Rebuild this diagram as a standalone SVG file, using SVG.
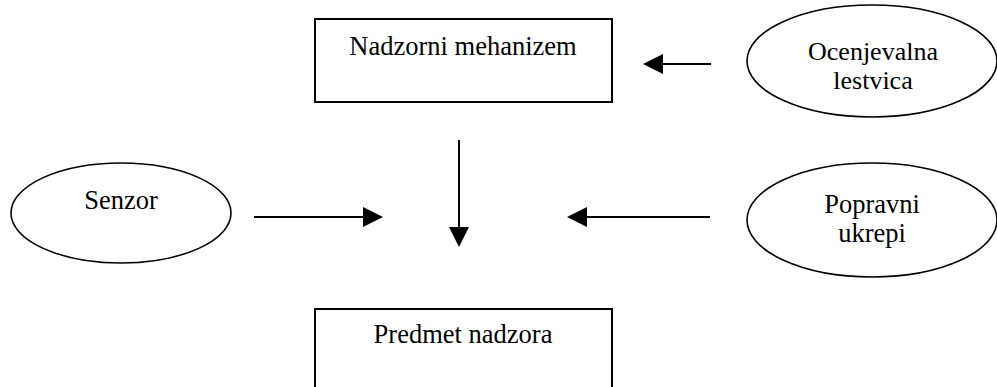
<svg xmlns="http://www.w3.org/2000/svg" width="997" height="387" viewBox="0 0 997 387">
  <style>
    .box { fill: #ffffff; stroke: #000000; stroke-width: 2; }
    .oval { fill: #ffffff; stroke: #000000; stroke-width: 1.6; }
    .label { font-family: "Liberation Serif", "DejaVu Serif", "Times New Roman", serif; font-size: 26.5px; fill: #000000; text-anchor: middle; }
    .small { font-size: 26px; }
    .link { stroke: #000000; stroke-width: 2; fill: none; }
    .head { fill: #000000; stroke: none; }
  </style>
  <rect width="997" height="387" fill="#ffffff"/>

  <g id="nadzorni-mehanizem">
    <rect class="box" x="315" y="19" width="297" height="83"/>
    <text class="label" x="463" y="55">Nadzorni mehanizem</text>
  </g>

  <g id="ocenjevalna-lestvica">
    <ellipse class="oval" cx="872" cy="61" rx="125" ry="56"/>
    <text class="label small" x="873" y="60">Ocenjevalna</text>
    <text class="label small" x="873" y="89">lestvica</text>
  </g>

  <g id="senzor">
    <ellipse class="oval" cx="121" cy="213" rx="110" ry="50"/>
    <text class="label" x="121" y="209">Senzor</text>
  </g>

  <g id="popravni-ukrepi">
    <ellipse class="oval" cx="872" cy="220" rx="125" ry="57"/>
    <text class="label" x="872" y="213">Popravni</text>
    <text class="label" x="872" y="242">ukrepi</text>
  </g>

  <g id="predmet-nadzora">
    <rect class="box" x="315" y="309" width="297" height="85"/>
    <text class="label" x="463" y="343">Predmet nadzora</text>
  </g>

  <g id="connectors">
    <!-- scale -> supervisor -->
    <line class="link" x1="711" y1="64" x2="660" y2="64"/>
    <polygon class="head" points="643,64 663,54 663,74"/>
    <!-- supervisor -> object -->
    <line class="link" x1="459" y1="140" x2="459" y2="230"/>
    <polygon class="head" points="459,247 449,227 469,227"/>
    <!-- sensor -> centre -->
    <line class="link" x1="254" y1="217" x2="366" y2="217"/>
    <polygon class="head" points="383,217 363,207 363,227"/>
    <!-- corrective actions -> centre -->
    <line class="link" x1="710" y1="217" x2="584" y2="217"/>
    <polygon class="head" points="567,217 587,207 587,227"/>
  </g>
</svg>
